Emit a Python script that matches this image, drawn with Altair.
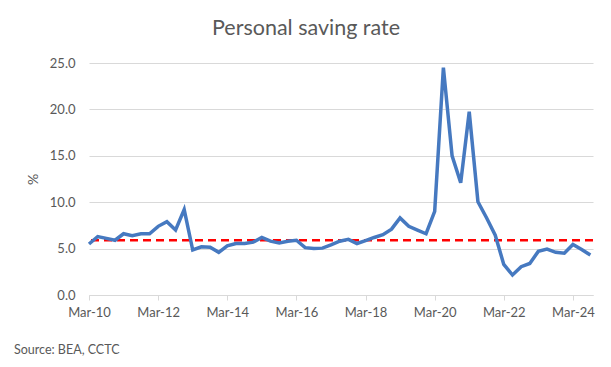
import altair as alt
import pandas as pd

# Quarterly personal saving rate, Mar-10 .. Sep-24 (%)
saving_rate = [5.5, 6.3, 6.1, 5.9, 6.6, 6.4, 6.6, 6.6, 7.4, 7.9, 7.0, 9.2,
               4.85, 5.2, 5.15, 4.6, 5.3, 5.55, 5.55, 5.7, 6.2, 5.8, 5.6,
               5.8, 5.9, 5.1, 5.0, 5.05, 5.4, 5.8, 6.0, 5.55, 5.85, 6.2, 6.5,
               7.1, 8.3, 7.4, 7.0, 6.6, 9.0, 24.5, 15.0, 12.1, 19.75,
               10.05, 8.3, 6.45, 3.3, 2.15, 3.05, 3.4, 4.7, 4.95, 4.6, 4.5,
               5.45, 4.9, 4.3]
quarter_dates = [f"{2010 + (i * 3 + 2) // 12}-{(i * 3 + 2) % 12 + 1:02d}-15"
                 for i in range(len(saving_rate))]
average_rate = [5.9]
tick_years = [2010, 2012, 2014, 2016, 2018, 2020, 2022, 2024]
y_ticks = [0, 5, 10, 15, 20, 25]
title_text = ["Personal saving rate"]
source_text = ["Source: BEA, CCTC"]

GREY = "#595959"
FONT = "Lato"

df = pd.DataFrame({"date": quarter_dates, "rate": saving_rate})
avg_df = pd.DataFrame({"avg": average_rate})

x_scale = alt.Scale(domain=[alt.DateTime(year=2010, month=3, date=15),
                            alt.DateTime(year=2024, month=10, date=13)])
y_scale = alt.Scale(domain=[0, 25], nice=False)

x_axis = alt.Axis(values=[alt.DateTime(year=y, month=3, date=15) for y in tick_years],
                  format="%b-%y", title=None, grid=False,
                  domainColor="#d9d9d9", domainWidth=1,
                  tickColor="#d9d9d9", tickSize=5, labelPadding=6,
                  labelFlush=False, labelOverlap=False, labelBound=False,
                  labelColor=GREY, labelFont=FONT, labelFontSize=13)
y_axis = alt.Axis(values=y_ticks, format=".1f", title="%",
                  domain=False, ticks=False, tickSize=0, labelPadding=14,
                  grid=True, gridColor="#d9d9d9", gridWidth=1,
                  labelColor=GREY, labelFont=FONT, labelFontSize=13,
                  titleColor=GREY, titleFont=FONT, titleFontSize=14,
                  titleFontWeight="normal", titleX=-56, titleY=116,
                  titleAngle=270, titleAlign="center", titleBaseline="middle")

line = alt.Chart(df).mark_line(color="#4679C0", strokeWidth=3.5).encode(
    x=alt.X("date:T", scale=x_scale, axis=x_axis),
    y=alt.Y("rate:Q", scale=y_scale, axis=y_axis),
)

avg = alt.Chart(avg_df).mark_rule(color="#FF0000", strokeWidth=2.5,
                                  strokeDash=[8, 5]).encode(
    y=alt.Y("avg:Q", scale=y_scale)
)

title = alt.Chart(pd.DataFrame({"t": title_text})).mark_text(
    font=FONT, fontSize=21.5, color=GREY, align="center", baseline="middle"
).encode(text="t:N", x=alt.value(217), y=alt.value(-34))

source = alt.Chart(pd.DataFrame({"t": source_text})).mark_text(
    font=FONT, fontSize=12.5, color=GREY, align="left", baseline="middle"
).encode(text="t:N", x=alt.value(-75), y=alt.value(287))

chart = alt.layer(avg, line, title, source).properties(
    width=504, height=232,
    autosize=alt.AutoSizeParams(type="none"),
    padding={"left": 81, "top": 55, "right": 10, "bottom": 64},
    background="white",
).configure_view(stroke=None)

chart.save("out.html", embed_options={"renderer": "svg", "actions": False})
